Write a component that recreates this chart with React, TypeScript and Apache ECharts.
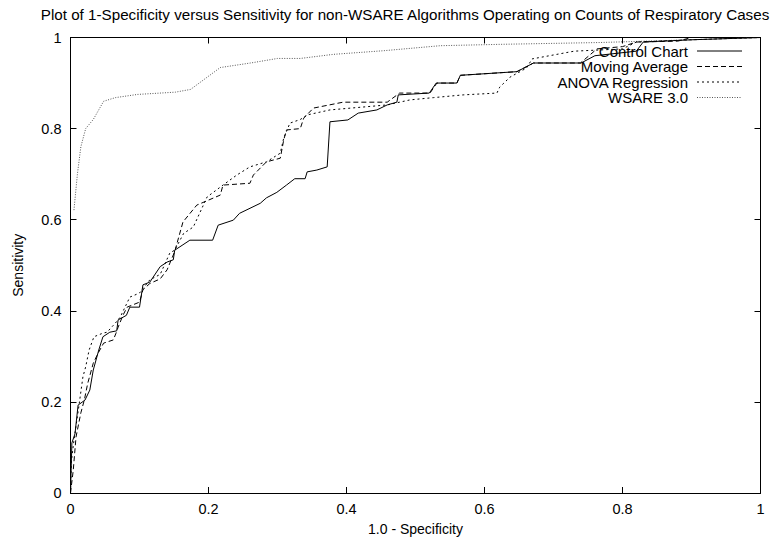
import React, { useEffect, useRef } from "react";
import * as echarts from "echarts";

const TITLE = "Plot of 1-Specificity versus Sensitivity for non-WSARE Algorithms Operating on Counts of Respiratory Cases";
const X_NAME = "1.0 - Specificity";
const Y_NAME = "Sensitivity";
const SERIES_NAMES = ["Control Chart", "Moving Average", "ANOVA Regression", "WSARE 3.0"];

const controlChart: number[][] = [
  [0, 0], [0.002, 0.11], [0.0065, 0.13], [0.011, 0.193], [0.021, 0.204], [0.028, 0.226], [0.033, 0.27],
  [0.041, 0.314], [0.047, 0.343], [0.057, 0.353], [0.067, 0.356], [0.069, 0.38], [0.081, 0.39],
  [0.086, 0.408], [0.1, 0.408], [0.105, 0.457], [0.115, 0.463], [0.13, 0.497], [0.14, 0.507],
  [0.149, 0.512], [0.151, 0.533], [0.163, 0.545], [0.173, 0.555], [0.206, 0.555], [0.214, 0.588],
  [0.236, 0.599], [0.245, 0.614], [0.275, 0.636], [0.284, 0.648], [0.299, 0.66], [0.313, 0.676],
  [0.325, 0.69], [0.34, 0.69], [0.343, 0.705], [0.357, 0.709], [0.372, 0.716], [0.376, 0.815],
  [0.402, 0.819], [0.417, 0.834], [0.444, 0.841], [0.459, 0.852], [0.473, 0.858], [0.475, 0.874],
  [0.52, 0.878], [0.53, 0.9], [0.56, 0.9], [0.565, 0.917], [0.647, 0.925], [0.671, 0.944],
  [0.74, 0.944], [0.76, 0.96], [0.82, 0.97], [0.83, 0.99], [0.9, 0.995], [1, 1],
];

const movingAverage: number[][] = [
  [0, 0], [0.004, 0.05], [0.008, 0.123], [0.015, 0.176], [0.02, 0.204], [0.025, 0.241], [0.033, 0.285],
  [0.04, 0.307], [0.048, 0.329], [0.062, 0.336], [0.066, 0.351], [0.069, 0.364], [0.076, 0.39],
  [0.082, 0.408], [0.1, 0.419], [0.105, 0.446], [0.115, 0.46], [0.13, 0.47], [0.14, 0.49],
  [0.151, 0.53], [0.163, 0.595], [0.183, 0.632], [0.217, 0.654], [0.221, 0.676], [0.26, 0.68],
  [0.265, 0.698], [0.284, 0.727], [0.304, 0.735], [0.309, 0.775], [0.313, 0.797], [0.333, 0.8],
  [0.338, 0.823], [0.352, 0.845], [0.395, 0.858], [0.459, 0.858], [0.477, 0.878], [0.521, 0.878],
  [0.531, 0.9], [0.56, 0.9], [0.565, 0.917], [0.647, 0.925], [0.671, 0.944], [0.739, 0.944],
  [0.763, 0.975], [0.8, 0.98], [0.82, 0.99], [0.88, 0.992], [0.9, 1], [1, 1],
];

const anovaRegression: number[][] = [
  [0, 0], [0.001, 0.066], [0.005, 0.116], [0.012, 0.189], [0.018, 0.255], [0.022, 0.277], [0.027, 0.314],
  [0.034, 0.343], [0.047, 0.351], [0.053, 0.353], [0.065, 0.373], [0.072, 0.386], [0.086, 0.43],
  [0.1, 0.439], [0.115, 0.468], [0.13, 0.48], [0.144, 0.527], [0.151, 0.533], [0.164, 0.57],
  [0.178, 0.584], [0.188, 0.617], [0.198, 0.65], [0.221, 0.676], [0.241, 0.698], [0.26, 0.716],
  [0.284, 0.727], [0.304, 0.746], [0.309, 0.779], [0.318, 0.812], [0.333, 0.82], [0.343, 0.83],
  [0.376, 0.841], [0.459, 0.852], [0.492, 0.863], [0.526, 0.868], [0.569, 0.874], [0.618, 0.878],
  [0.622, 0.891], [0.637, 0.913], [0.661, 0.933], [0.669, 0.953], [0.73, 0.97], [0.8, 0.975],
  [0.82, 0.99], [0.9, 0.995], [1, 1],
];

const wsare: number[][] = [
  [0.005, 0.621], [0.01, 0.7], [0.015, 0.76], [0.022, 0.8], [0.033, 0.82], [0.048, 0.86], [0.065, 0.868],
  [0.097, 0.875], [0.152, 0.88], [0.174, 0.886], [0.217, 0.934], [0.265, 0.945], [0.3, 0.954],
  [0.333, 0.954], [0.381, 0.963], [0.454, 0.971], [0.536, 0.982], [0.623, 0.985], [0.768, 0.989],
  [0.9, 0.995], [1, 1],
];

const SERIES_DATA = [controlChart, movingAverage, anovaRegression, wsare];
const LINE_STYLES: any[] = [
  { color: "#000", width: 1, type: "solid" },
  { color: "#000", width: 1, type: [5, 3] },
  { color: "#000", width: 1, type: [2, 3] },
  { color: "#555", width: 1, type: [1, 1.5] },
];

const FONT = "'Liberation Sans', Arial, Helvetica, sans-serif";

export default function App() {
  const ref = useRef<HTMLDivElement>(null);
  useEffect(() => {
    if (!ref.current) return;
    const chart = echarts.init(ref.current, undefined, { renderer: "svg" });
    const axisCommon = {
      type: "value",
      min: 0,
      max: 1,
      interval: 0.2,
      splitLine: { show: false },
      axisLine: { show: true, onZero: false, lineStyle: { color: "#000", width: 1 } },
      axisTick: { show: true, inside: true, length: 6, lineStyle: { color: "#000" } },
    };
    const legendX1 = 688;
    const legendY0 = 51;
    const legendDy = 15.5;
    const graphic: any[] = [];
    SERIES_NAMES.forEach((name, i) => {
      graphic.push({
        type: "text",
        x: legendX1,
        y: legendY0 + i * legendDy,
        z: 100,
        style: {
          text: name,
          font: `15px ${FONT}`,
          fill: "#000",
          align: "right",
          verticalAlign: "middle",
        },
      });
      graphic.push({
        type: "line",
        z: 100,
        shape: { x1: 697, y1: legendY0 + i * legendDy, x2: 742, y2: legendY0 + i * legendDy },
        style: {
          stroke: LINE_STYLES[i].color,
          lineWidth: 1,
          lineDash: LINE_STYLES[i].type === "solid" ? null : LINE_STYLES[i].type,
        },
      });
    });
    graphic.push({
      type: "text",
      x: 405,
      y: 14,
      style: {
        text: TITLE,
        font: `15.2px ${FONT}`,
        fill: "#000",
        align: "center",
        verticalAlign: "middle",
      },
    });
    chart.setOption({
      animation: false,
      backgroundColor: "#fff",
      textStyle: { fontFamily: FONT },
      grid: { left: 70.5, right: 21.5, top: 37.5, bottom: 50 },
      xAxis: [
        {
          ...axisCommon,
          position: "bottom",
          name: X_NAME,
          nameLocation: "middle",
          nameGap: 29,
          nameTextStyle: { fontSize: 14, color: "#000", fontFamily: FONT },
          axisLabel: { color: "#000", fontSize: 14.5, margin: 8, fontFamily: FONT },
        },
        {
          ...axisCommon,
          position: "top",
          axisLabel: { show: false },
        },
      ],
      yAxis: [
        {
          ...axisCommon,
          position: "left",
          name: Y_NAME,
          nameLocation: "middle",
          nameGap: 46,
          nameRotate: 90,
          nameTextStyle: { fontSize: 14, color: "#000", fontFamily: FONT },
          axisLabel: { color: "#000", fontSize: 14.5, margin: 9, fontFamily: FONT },
        },
        {
          ...axisCommon,
          position: "right",
          axisLabel: { show: false },
        },
      ],
      series: SERIES_NAMES.map((name, i) => ({
        name,
        type: "line",
        data: SERIES_DATA[i],
        xAxisIndex: 0,
        yAxisIndex: 0,
        symbol: "none",
        lineStyle: LINE_STYLES[i],
        z: 10 - i,
      })),
      graphic,
    });
    return () => chart.dispose();
  }, []);
  return <div ref={ref} style={{ width: 782, height: 543, marginLeft: -8, marginTop: -8 }} />;
}
